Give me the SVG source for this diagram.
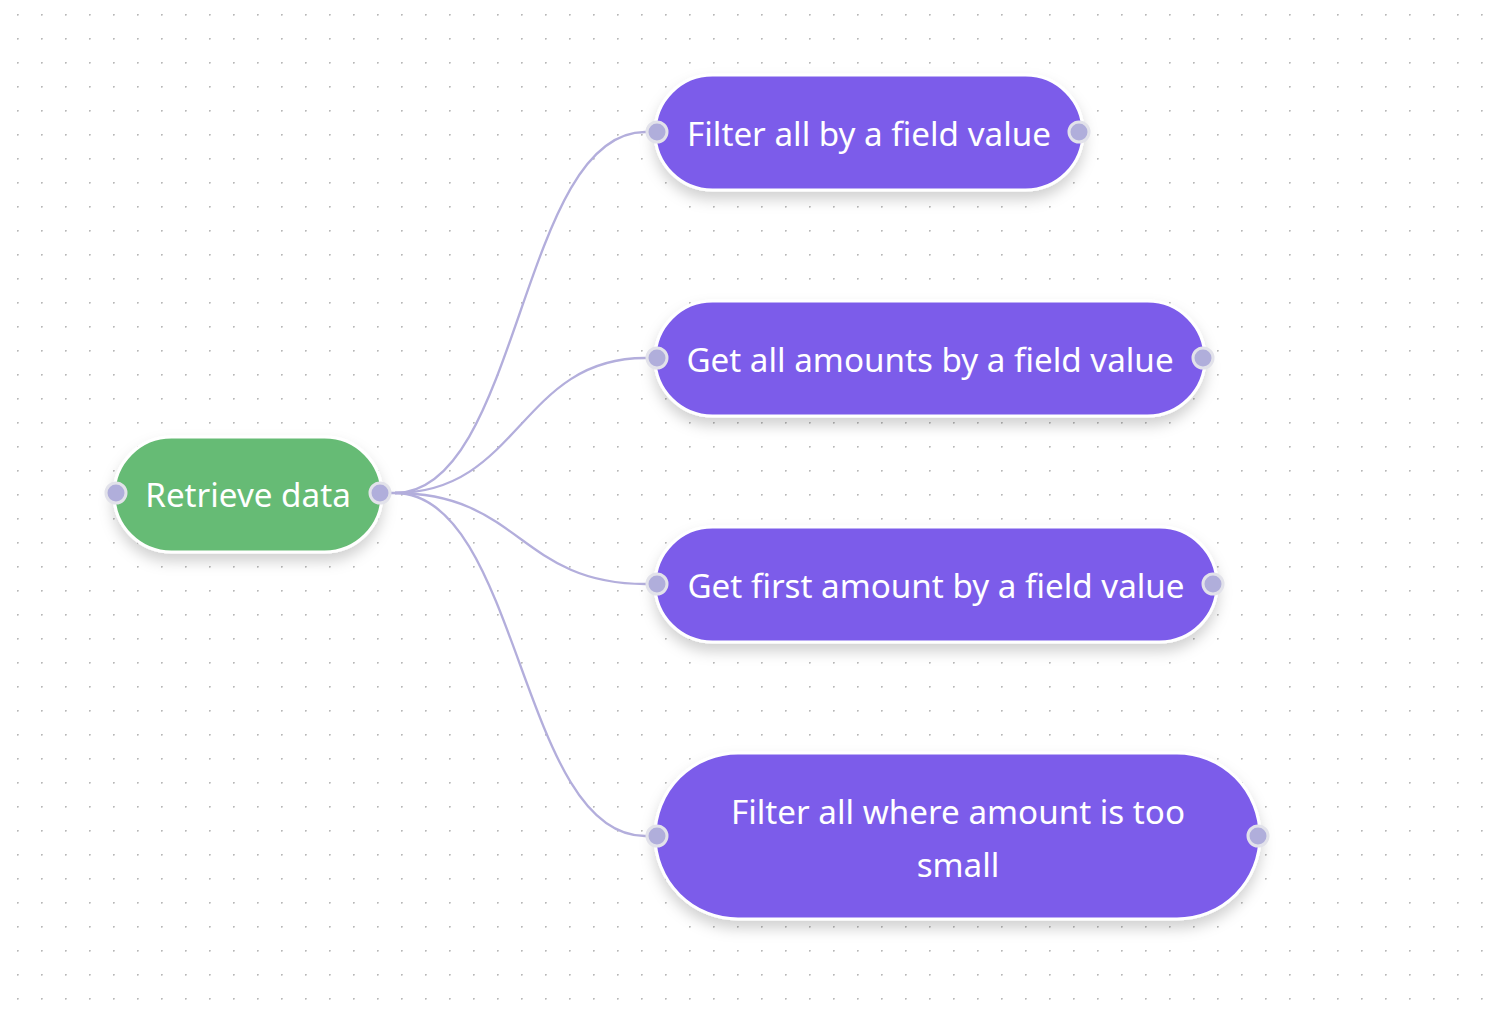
<svg xmlns="http://www.w3.org/2000/svg" width="1496" height="1016" viewBox="0 0 1496 1016">
<defs>
<pattern id="dots" x="17" y="14" width="24" height="24" patternUnits="userSpaceOnUse">
<circle cx="0.8" cy="0.8" r="1" fill="#b8b8b8"/>
</pattern>
<filter id="sh" x="-20%" y="-30%" width="140%" height="170%">
<feDropShadow dx="0" dy="8" stdDeviation="7" flood-color="#000" flood-opacity="0.18"/>
</filter>
<style>
.node{stroke:#ffffff;stroke-width:3;filter:url(#sh)}
.green{fill:#66BB74}
.purple{fill:#7B5CEA}
.lbl{font-family:"Noto Sans","Open Sans",sans-serif;font-size:33.2px;fill:#ffffff;dominant-baseline:central}
.h{fill:#B0AEDB;stroke:#E2E2EA;stroke-width:3}
.c{fill:none;stroke:#B3AEDC;stroke-width:2.3}
</style>
</defs>
<rect width="1496" height="1016" fill="#ffffff"/>
<rect width="1496" height="1016" fill="url(#dots)"/>
<g id="connectors">
<path class="c" d="M380,493 L395,493 C520,493 520,132 645,132 L657,132"/>
<path class="c" d="M395,493 C520,493 520,358 645,358 L657,358"/>
<path class="c" d="M395,493 C520,493 520,584 645,584 L657,584"/>
<path class="c" d="M395,493 C520,493 520,836 645,836 L657,836"/>
</g>
<g id="retrieve-data">
<rect class="node green" x="114" y="437" width="268" height="115" rx="57.5"/>
<text class="lbl" x="248" y="494" text-anchor="middle">Retrieve data</text>
<circle class="h" cx="116" cy="493" r="10"/>
<circle class="h" cx="380" cy="493" r="10"/>
</g>
<g id="filter-all-by-field">
<rect class="node purple" x="655" y="75" width="428" height="115" rx="57.5"/>
<text class="lbl" x="869" y="133" text-anchor="middle">Filter all by a field value</text>
<circle class="h" cx="657" cy="132" r="10"/>
<circle class="h" cx="1079" cy="132" r="10"/>
</g>
<g id="get-all-amounts">
<rect class="node purple" x="655" y="301" width="550" height="115" rx="57.5"/>
<text class="lbl" x="930" y="359" text-anchor="middle">Get all amounts by a field value</text>
<circle class="h" cx="657" cy="358" r="10"/>
<circle class="h" cx="1203" cy="358" r="10"/>
</g>
<g id="get-first-amount">
<rect class="node purple" x="655" y="527" width="562" height="115" rx="57.5"/>
<text class="lbl" x="936" y="585" text-anchor="middle">Get first amount by a field value</text>
<circle class="h" cx="657" cy="584" r="10"/>
<circle class="h" cx="1213" cy="584" r="10"/>
</g>
<g id="filter-amount-small">
<rect class="node purple" x="655" y="753" width="605" height="166" rx="83"/>
<text class="lbl" x="958" y="811" text-anchor="middle">Filter all where amount is too</text>
<text class="lbl" x="958" y="864" text-anchor="middle">small</text>
<circle class="h" cx="657" cy="836" r="10"/>
<circle class="h" cx="1258" cy="836" r="10"/>
</g>
</svg>
